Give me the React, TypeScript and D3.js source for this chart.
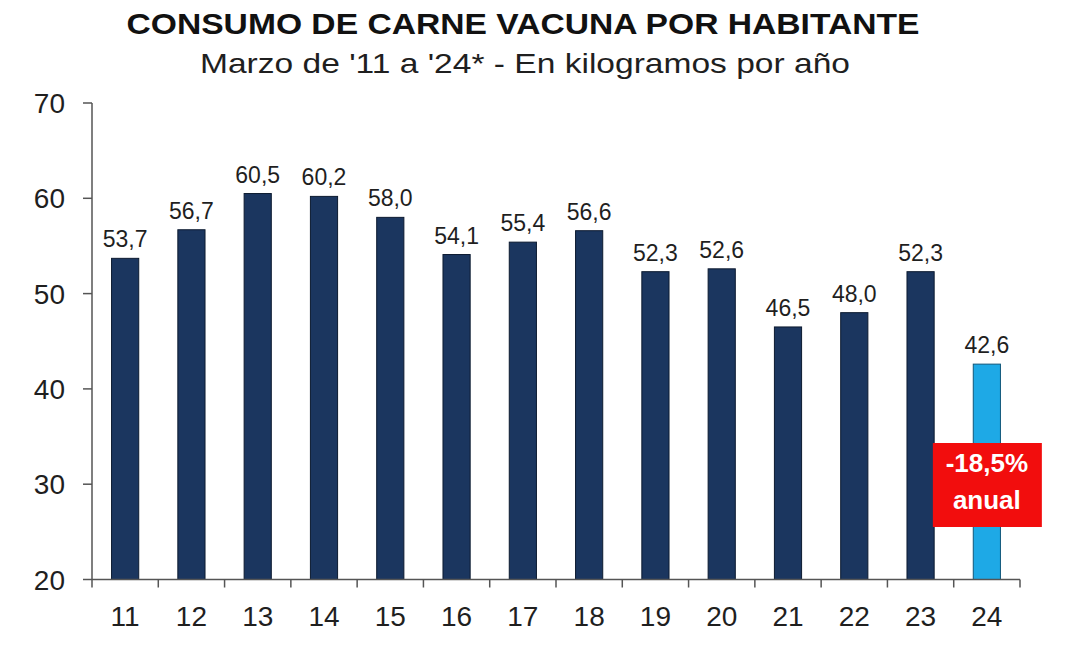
import React from "react";
import * as d3 from "d3";

const categories = ["11", "12", "13", "14", "15", "16", "17", "18", "19", "20", "21", "22", "23", "24"];
const values = [53.7, 56.7, 60.5, 60.2, 58.0, 54.1, 55.4, 56.6, 52.3, 52.6, 46.5, 48.0, 52.3, 42.6];
const yTicks = [20, 30, 40, 50, 60, 70];
const title = "CONSUMO DE CARNE VACUNA POR HABITANTE";
const subtitle = "Marzo de '11 a '24* - En kilogramos por año";
const badgeLines = ["-18,5%", "anual"];

const W = 1068;
const H = 655;
const left = 92;
const right = 1020;
const top = 103;
const bottom = 579.5;
const FONT = "'Liberation Sans', Arial, sans-serif";
const TEXT = "#1f1f1f";

export default function App() {
  const x = d3.scaleBand<string>().domain(categories).range([left, right]).padding(0);
  const y = d3.scaleLinear().domain([20, 70]).range([bottom, top]);
  const bw = x.bandwidth() * 0.41;
  const fmt = (v: number) => v.toFixed(1).replace(".", ",");
  const lastCat = categories[categories.length - 1];
  const cx = (x(lastCat) as number) + x.bandwidth() / 2;
  const mid = (c: string) => (x(c) as number) + x.bandwidth() / 2;

  return (
    <svg width={W} height={H} style={{ position: "absolute", left: 0, top: 0, background: "#fff" }}>
      <rect x={0} y={0} width={W} height={H} fill="#fff" />
      <text x={523} y={34} textAnchor="middle" fontFamily={FONT} fontWeight="bold" fontSize={30} fill="#111"
        textLength={793} lengthAdjust="spacingAndGlyphs">{title}</text>
      <text x={525} y={73} textAnchor="middle" fontFamily={FONT} fontSize={28} fill={TEXT}
        textLength={650} lengthAdjust="spacingAndGlyphs">{subtitle}</text>

      {/* bars */}
      {categories.map((c, i) => {
        const bx = mid(c) - bw / 2;
        const isLast = i === categories.length - 1;
        return (
          <rect key={c} x={bx} y={y(values[i])} width={bw} height={bottom - y(values[i])}
            fill={isLast ? "#1ea9e6" : "#1b365f"} stroke={isLast ? "#10577a" : "#0c1a30"} strokeWidth={1} />
        );
      })}

      {/* value labels */}
      {categories.map((c, i) => (
        <text key={"v" + c} x={mid(c)} y={y(values[i]) - 11} textAnchor="middle" fontFamily={FONT}
          fontSize={23} fill={TEXT}>
          {fmt(values[i])}
        </text>
      ))}

      {/* y axis */}
      <line x1={left} x2={left} y1={top} y2={bottom} stroke="#555" strokeWidth={1.5} />
      {yTicks.map((t) => (
        <g key={"y" + t}>
          <line x1={left - 9} x2={left} y1={y(t)} y2={y(t)} stroke="#555" strokeWidth={1.5} />
          <text x={65} y={y(t)} dy="0.36em" textAnchor="end" fontFamily={FONT} fontSize={28} fill={TEXT}>{t}</text>
        </g>
      ))}

      {/* x axis */}
      <line x1={left} x2={right} y1={bottom} y2={bottom} stroke="#555" strokeWidth={1.5} />
      {[...categories.map((c) => x(c) as number), right].map((px, i) => (
        <line key={"xt" + i} x1={px} x2={px} y1={bottom} y2={bottom + 8} stroke="#555" strokeWidth={1.5} />
      ))}
      {categories.map((c) => (
        <text key={"xl" + c} x={mid(c)} y={626} textAnchor="middle" fontFamily={FONT} fontSize={28} fill={TEXT}>{c}</text>
      ))}

      {/* badge */}
      <rect x={cx - 54} y={443} width={109} height={84} fill="#f20d0d" />
      <text x={cx} y={472} textAnchor="middle" fontFamily={FONT} fontWeight="bold" fontSize={26} fill="#fff">{badgeLines[0]}</text>
      <text x={cx} y={509} textAnchor="middle" fontFamily={FONT} fontWeight="bold" fontSize={26} fill="#fff">{badgeLines[1]}</text>
    </svg>
  );
}
